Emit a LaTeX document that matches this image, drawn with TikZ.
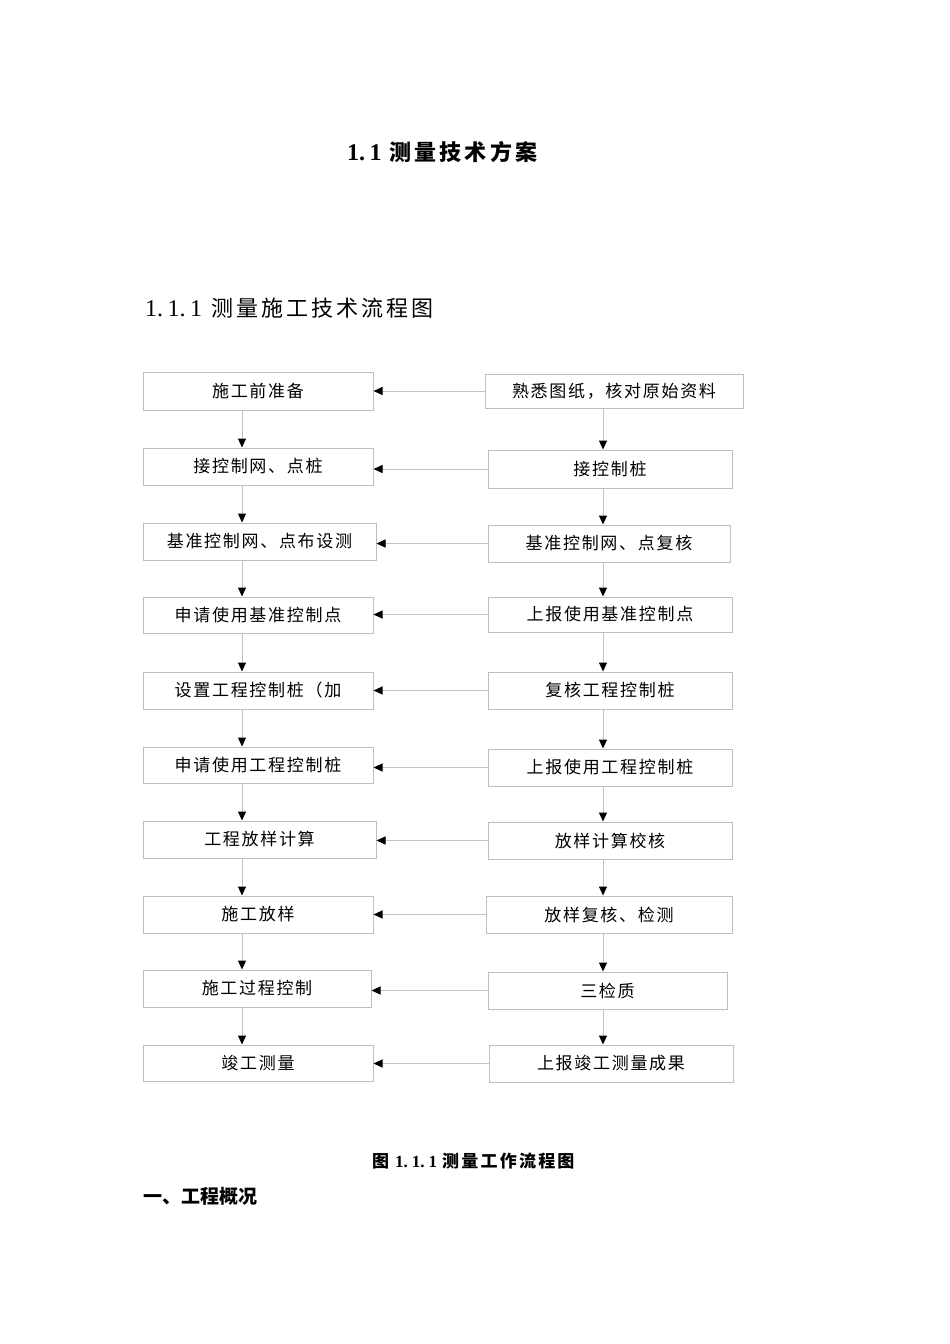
\documentclass[tikz,border=0pt]{standalone}
\usepackage{fontspec}
\setmainfont{Noto Sans CJK SC}
\newfontfamily\boxfont[LetterSpace=10]{Noto Sans CJK SC}
\newfontfamily\headfont[LetterSpace=14]{Noto Sans CJK SC}
\newfontfamily\capfont[LetterSpace=13]{Noto Sans CJK SC}
\newfontfamily\dig{Liberation Serif}
\usetikzlibrary{arrows.meta}
\definecolor{bordergray}{RGB}{190,190,190}
\definecolor{linegray}{RGB}{195,195,195}
\tikzset{
  box/.style={draw=bordergray, line width=1pt, inner sep=0pt,
    font=\boxfont\fontsize{17}{19}\selectfont},
  arr/.style={draw=linegray, line width=1pt,
    -{Triangle[length=9pt,width=8pt,color=black]}},
}
\newcommand\bx[6]{\node[box,minimum width={(#4-#2)*1pt},minimum height={(#5-#3)*1pt}] (#1) at ({(#2+#4)/2},{(#3+#5)/2}) {#6};}
\begin{document}
\begin{tikzpicture}[x=1pt,y=-1pt]
\useasboundingbox[fill=white] (0,0) rectangle (950,1344);
% headings
\node[anchor=west, inner sep=0pt, font=\fontsize{22}{26}\selectfont\bfseries] (title) at (347,152) {{\dig\fontsize{24}{26}\selectfont 1.\hspace{4.5pt}1}\hspace{8pt}{\headfont 测量技术方案}};
\node[anchor=west, inner sep=0pt, font=\fontsize{22}{26}\selectfont] (head) at (145,308) {{\dig\fontsize{24}{26}\selectfont 1.\hspace{4.5pt}1.\hspace{4.5pt}1}\hspace{9pt}{\headfont 测量施工技术流程图}};
\node[anchor=west, inner sep=0pt, font=\fontsize{17}{20}\selectfont\bfseries] (cap) at (372,1161) {图\hspace{6pt}{\dig\fontsize{17}{20}\selectfont 1.\hspace{4pt}1.\hspace{4pt}1}\hspace{5pt}{\capfont 测量工作流程图}};
\node[anchor=west, font=\fontsize{19}{22}\selectfont\bfseries, inner sep=0pt] (sec) at (143,1196) {一、工程概况};
% left column
\bx{L1}{143}{372}{373}{410}{施工前准备}
\bx{L2}{143}{448}{373}{485}{接控制网、点桩}
\bx{L3}{143}{523}{376}{560}{基准控制网、点布设测}
\bx{L4}{143}{597}{373}{633}{申请使用基准控制点}
\bx{L5}{143}{672}{373}{709}{设置工程控制桩（加}
\bx{L6}{143}{747}{373}{783}{申请使用工程控制桩}
\bx{L7}{143}{821}{376}{858}{工程放样计算}
\bx{L8}{143}{896}{373}{933}{施工放样}
\bx{L9}{143}{970}{371}{1007}{施工过程控制}
\bx{L10}{143}{1045}{373}{1081}{竣工测量}
% right column
\bx{R1}{485}{374}{743}{408}{熟悉图纸，核对原始资料}
\bx{R2}{488}{450}{732}{488}{接控制桩}
\bx{R3}{488}{525}{730}{562}{基准控制网、点复核}
\bx{R4}{488}{597}{732}{632}{上报使用基准控制点}
\bx{R5}{488}{672}{732}{709}{复核工程控制桩}
\bx{R6}{488}{749}{732}{786}{上报使用工程控制桩}
\bx{R7}{488}{822}{732}{859}{放样计算校核}
\bx{R8}{486}{896}{732}{933}{放样复核、检测}
\bx{R9}{488}{972}{727}{1009}{三检质}
\bx{R10}{489}{1045}{733}{1082}{上报竣工测量成果}
\coordinate (xl) at (242,0);
\coordinate (xr) at (603,0);
\foreach \i [evaluate=\i as \j using int(\i+1)] in {1,...,9}{
  \draw[arr] (L\i.south -| xl) -- (L\j.north -| xl);
  \draw[arr] (R\i.south -| xr) -- (R\j.north -| xr);
}
\foreach \i in {1,...,10}{
  \draw[arr] (R\i.west) -- (R\i.west -| L\i.east);
}
\end{tikzpicture}
\end{document}
